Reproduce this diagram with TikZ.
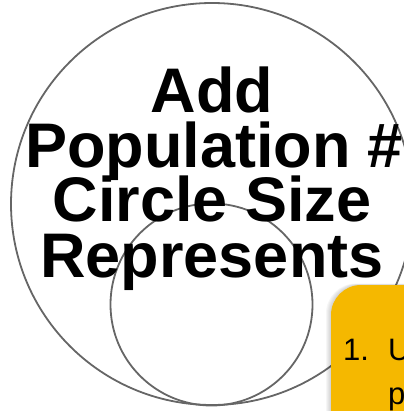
\documentclass[tikz,border=0pt]{standalone}
\usepackage{fontspec}
\setmainfont{Liberation Sans}
\definecolor{ringgray}{HTML}{666666}
\definecolor{noteyellow}{HTML}{F5B800}
\tikzset{
  ring/.style={circle, draw=ringgray, line width=1.8pt, inner sep=0pt},
  bigtext/.style={anchor=base, inner sep=0pt, font=\fontsize{63}{55}\bfseries\selectfont},
  notetext/.style={anchor=base west, inner sep=0pt, font=\fontsize{31}{38}\selectfont},
}
\begin{document}
\begin{tikzpicture}[x=1pt,y=-1pt]
\useasboundingbox (0,0) rectangle (403,411);
\node[ring, minimum size=402pt] (big) at (212,204) {};
\node[ring, minimum size=202pt] (small) at (211.5,304.5) {};
\node[bigtext] (l1) at (212,113) {Add};
\node[bigtext] (l2) at (214,168) {Population \#};
\node[bigtext] (l3) at (212,222) {Circle Size};
\node[bigtext] (l4) at (212,277) {Represents};
\foreach \i in {1,...,5}{
  \fill[black, opacity=0.035, rounded corners=30pt] (331-\i,285-0.3*\i) rectangle (470,470);
}
\fill[noteyellow, rounded corners=30pt] (331,285) rectangle (470,470);
\node[notetext] (n1) at (343,360) {1.};
\node[notetext] (n2) at (388,360) {U};
\node[notetext] (n3) at (388,404) {p};
\end{tikzpicture}
\end{document}
